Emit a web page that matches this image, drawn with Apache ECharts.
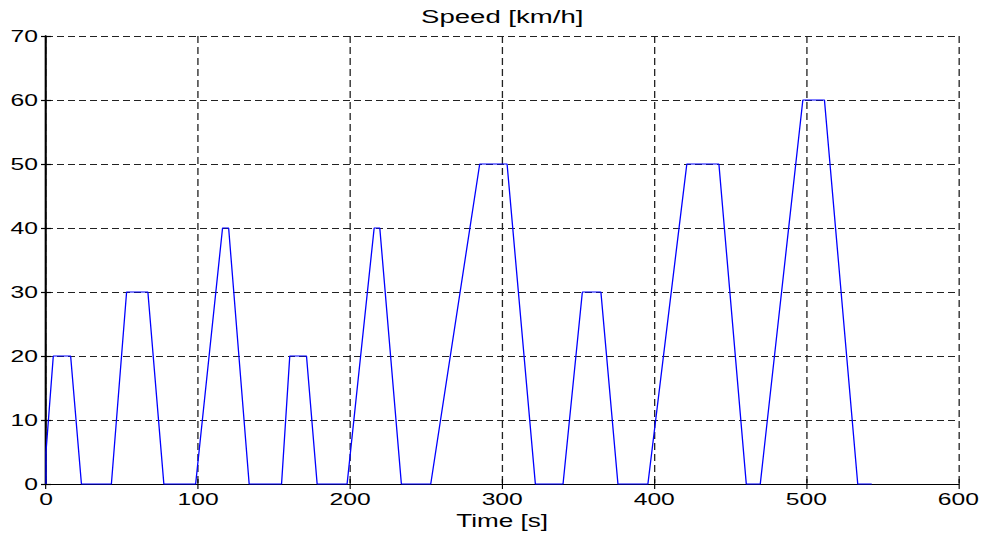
<!DOCTYPE html>
<html>
<head>
<meta charset="utf-8">
<script src="https://cdn.jsdelivr.net/npm/echarts@6/dist/echarts.min.js"></script>
<style>
  html, body { margin: 0; padding: 0; background: #fff; overflow: hidden; }
  /* the reference figure is stretched sideways, so draw narrow and widen */
  #speedChart {
    width: 681.4px;
    height: 539px;
    transform: scaleX(1.45);
    transform-origin: 0 0;
  }
</style>
</head>
<body>
<div id="speedChart"></div>
<script>
// corner points of the speed trace
const timeSec = [0, 0, 4.8, 16.2, 23.3, 43.0, 53.0, 67.0, 77.5, 98.4, 116.1, 120.1, 133.6,
  154.9, 160.3, 171.3, 178.3, 198.0, 215.8, 219.5, 233.7, 253.0, 285.2, 303.2, 321.8,
  340.0, 352.7, 364.9, 376.1, 395.8, 421.4, 442.5, 460.5, 469.7, 497.7, 511.9, 533.8, 543.0];
const speedKmh = [0, 5, 20, 20, 0, 0, 30, 30, 0, 0, 40, 40, 0,
  0, 20, 20, 0, 0, 40, 40, 0, 0, 50, 50, 0,
  0, 30, 30, 0, 0, 50, 50, 0, 0, 60, 60, 0, 0];
const xTicks = [0, 100, 200, 300, 400, 500, 600];
const yTicks = [0, 10, 20, 30, 40, 50, 60, 70];

const SX = 1.45; // horizontal stretch
const fontFamily = '"Liberation Sans", Arial, sans-serif';

const points = timeSec.map((t, i) => [t, speedKmh[i]]);

const option = {
  animation: false,
  grid: {
    left: 46 / SX,
    right: 681.4 - 959 / SX,
    top: 36,
    bottom: 55
  },
  xAxis: [
    {
      type: 'value',
      min: xTicks[0],
      max: xTicks[xTicks.length - 1],
      interval: 100,
      name: 'Time [s]',
      nameLocation: 'middle',
      nameGap: 26,
      nameTextStyle: { color: '#000', fontFamily: fontFamily, fontSize: 18 },
      axisLine: { show: true, lineStyle: { color: '#000', width: 1.2 } },
      axisTick: { show: true, inside: true, length: 5, lineStyle: { color: '#000', width: 0.8 } },
      axisLabel: { color: '#000', fontFamily: fontFamily, fontSize: 17, margin: 6 },
      splitLine: {
        show: true,
        lineStyle: { color: '#222', width: 0.9, type: [7, 4] }
      }
    },
    {
      // top edge of the box, carries the title
      type: 'value',
      position: 'top',
      min: xTicks[0],
      max: xTicks[xTicks.length - 1],
      interval: 100,
      name: 'Speed [km/h]',
      nameLocation: 'middle',
      nameGap: 10,
      nameTextStyle: { color: '#000', fontFamily: fontFamily, fontSize: 19 },
      axisLine: { show: true, lineStyle: { color: '#000', width: 1.2 } },
      axisTick: { show: true, inside: true, length: 5, lineStyle: { color: '#000', width: 0.8 } },
      axisLabel: { show: false },
      splitLine: { show: false }
    }
  ],
  yAxis: [
    {
      type: 'value',
      min: yTicks[0],
      max: yTicks[yTicks.length - 1],
      interval: 10,
      axisLine: { show: true, lineStyle: { color: '#000', width: 0.9 } },
      axisTick: { show: true, inside: true, length: 5 / SX, lineStyle: { color: '#000', width: 1.2 } },
      axisLabel: { color: '#000', fontFamily: fontFamily, fontSize: 17, margin: 5.5 },
      splitLine: {
        show: true,
        lineStyle: { color: '#222', width: 1.2, type: [7 / SX, 4 / SX] }
      }
    },
    {
      type: 'value',
      position: 'right',
      min: yTicks[0],
      max: yTicks[yTicks.length - 1],
      interval: 10,
      axisLine: { show: true, lineStyle: { color: '#000', width: 1.4 } },
      axisTick: { show: true, inside: true, length: 5 / SX, lineStyle: { color: '#000', width: 1.2 } },
      axisLabel: { show: false },
      splitLine: { show: false }
    }
  ],
  series: [
    {
      type: 'line',
      xAxisIndex: 0,
      yAxisIndex: 0,
      data: points,
      showSymbol: false,
      clip: false,
      lineStyle: { color: '#0000ff', width: 0.9 },
      z: 5
    }
  ]
};

const chart = echarts.init(document.getElementById('speedChart'), null, { renderer: 'svg' });
chart.setOption(option);
</script>
</body>
</html>
